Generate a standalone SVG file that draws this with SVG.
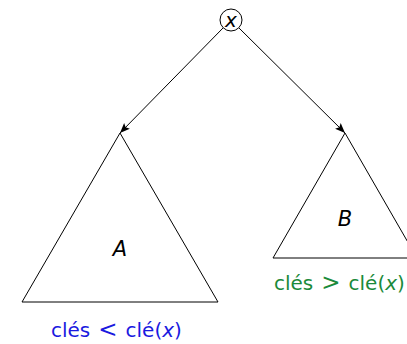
<svg xmlns="http://www.w3.org/2000/svg" width="407" height="344" viewBox="0 0 407 344">
<style>
.ln{stroke:#000;stroke-width:1;fill:none}
.tri{stroke:#000;stroke-width:1;fill:none;stroke-linejoin:miter}
.t{font-family:"DejaVu Sans",sans-serif;font-size:20px}
.big{font-size:21px}
.it{font-style:italic}
.rel{font-size:23px}
</style>
<defs>
<marker id="ah" viewBox="0 0 10 10" refX="10" refY="5" markerWidth="10" markerHeight="10" markerUnits="userSpaceOnUse" orient="auto">
<path d="M0,1 L10,5 L0,9 L2,5 Z" fill="#000"/>
</marker>
</defs>
<g id="connectors">
<line class="ln" x1="223" y1="28" x2="120" y2="133" marker-end="url(#ah)"/>
<line class="ln" x1="239" y1="28" x2="345" y2="133" marker-end="url(#ah)"/>
</g>
<g id="root">
<circle cx="231" cy="20" r="11" fill="#fff" stroke="#000" stroke-width="1"/>
<text class="t it" x="231" y="26.5" text-anchor="middle">x</text>
</g>
<g id="A">
<polygon class="tri" points="120,133 22,302 218,302"/>
<text class="t it big" x="120" y="256" text-anchor="middle">A</text>
<text class="t" x="51" y="337" fill="#1a1adf">clés<tspan class="rel" dx="8">&lt;</tspan><tspan dx="8">clé(</tspan><tspan class="it">x</tspan>)</text>
</g>
<g id="B">
<polygon class="tri" points="345,133 273,258 417,258"/>
<text class="t it big" x="345" y="226" text-anchor="middle">B</text>
<text class="t" x="274" y="290" fill="#1a8a3a">clés<tspan class="rel" dx="8">&gt;</tspan><tspan dx="8">clé(</tspan><tspan class="it">x</tspan>)</text>
</g>
</svg>
